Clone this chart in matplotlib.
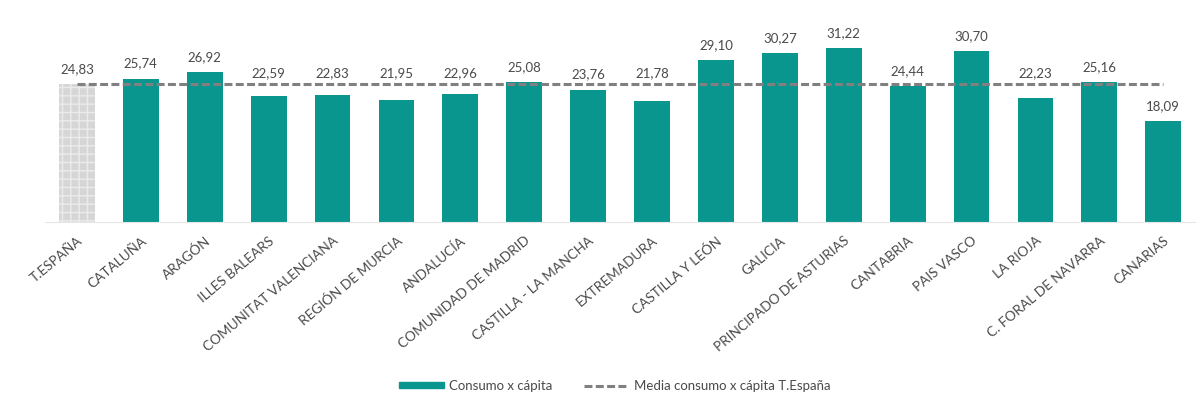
import numpy as np
import matplotlib.pyplot as plt
from matplotlib.lines import Line2D
from matplotlib.patches import Patch

regiones = ['T.ESPAÑA', 'CATALUÑA', 'ARAGÓN', 'ILLES BALEARS', 'COMUNITAT VALENCIANA',
            'REGIÓN DE MURCIA', 'ANDALUCÍA', 'COMUNIDAD DE MADRID', 'CASTILLA - LA MANCHA',
            'EXTREMADURA', 'CASTILLA Y LEÓN', 'GALICIA', 'PRINCIPADO DE ASTURIAS',
            'CANTABRIA', 'PAIS VASCO', 'LA RIOJA', 'C. FORAL DE NAVARRA', 'CANARIAS']
consumo = [24.83, 25.74, 26.92, 22.59, 22.83, 21.95, 22.96, 25.08, 23.76,
           21.78, 29.10, 30.27, 31.22, 24.44, 30.70, 22.23, 25.16, 18.09]
media_espana = 24.83

plt.rcParams['font.family'] = ['Lato', 'DejaVu Sans']

teal = '#08968f'
txt = '#4a4a4a'
dash = (0, (2.6, 1.1))

fig = plt.figure(figsize=(12, 4.07), dpi=100)
ax = fig.add_axes([0.0375, 0.4545, 0.9585, 0.479])

x = np.arange(len(regiones))
ax.bar(x[1:], consumo[1:], width=0.56, color=teal, zorder=2)
ax.bar(x[0], consumo[0], width=0.56, color='#d6d6d6', edgecolor='#ebebeb',
       hatch='++', linewidth=0, zorder=2)
ax.plot(x, [media_espana] * len(x), color='#808080', linestyle=dash,
        linewidth=2.2, zorder=3)

# label above the bar; if it would hit the dashed line, put it above the line
for xi, v in zip(x, consumo):
    y = v + 2.7
    if abs(y - media_espana) < 1.6:
        y = media_espana + 1.9
    ax.text(xi, y, f'{v:.2f}'.replace('.', ','), ha='center', va='center',
            fontsize=9.5, color=txt)

ax.set_xlim(-0.5, len(regiones) - 0.5)
ax.set_ylim(0, 35)
ax.set_yticks([])
ax.set_xticks(x)
ax.set_xticklabels(regiones, rotation=40, ha='right', rotation_mode='anchor',
                   fontsize=9.8, color=txt)
ax.tick_params(axis='x', length=0, pad=9)
for s in ['top', 'right', 'left']:
    ax.spines[s].set_visible(False)
ax.spines['bottom'].set_color('#e6e6e6')
ax.spines['bottom'].set_linewidth(0.8)

handles = [Patch(color=teal),
           Line2D([0], [0], color='#808080', linestyle=dash, linewidth=2.2)]
fig.legend(handles, ['Consumo x cápita', 'Media consumo x cápita T.España'],
           loc='center', bbox_to_anchor=(0.5125, 0.052), ncol=2, frameon=False,
           fontsize=9.5, handlelength=3.4, handleheight=0.4, columnspacing=2.4,
           handletextpad=0.4, labelcolor=txt)

fig.savefig('out.png', dpi=100)
